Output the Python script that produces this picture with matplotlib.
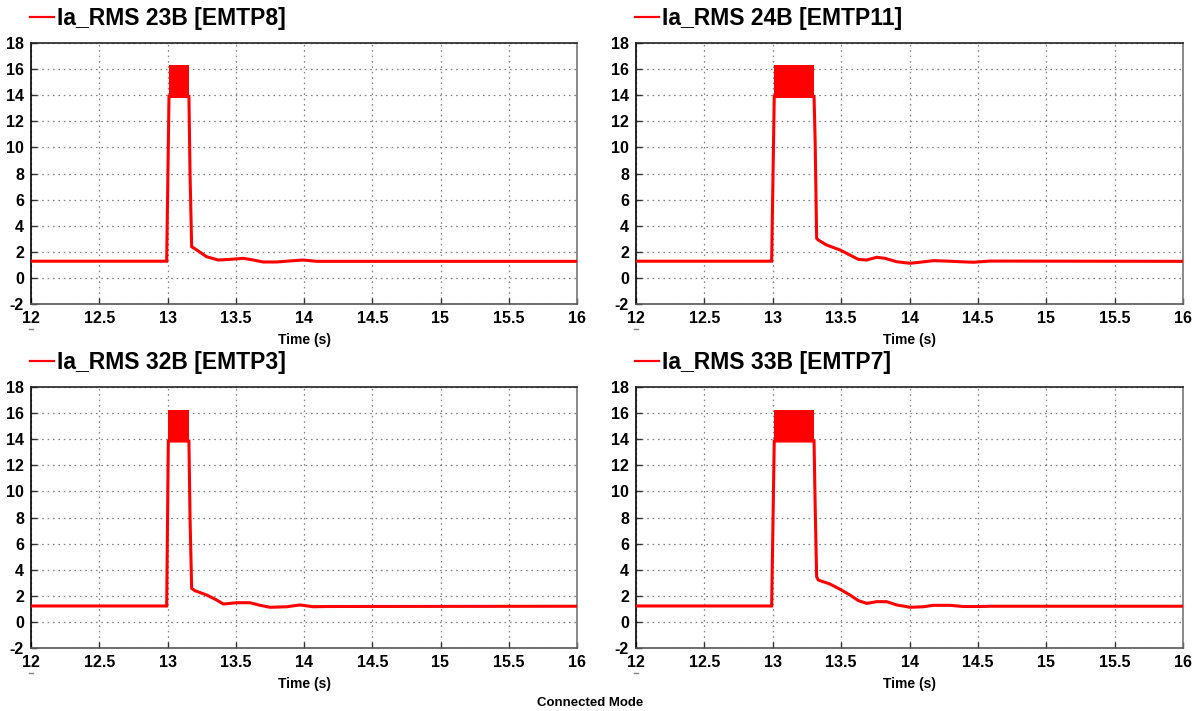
import matplotlib
matplotlib.use("Agg")
import matplotlib.pyplot as plt
from matplotlib.lines import Line2D

# ---------------- data ----------------
titles = ["Ia_RMS 23B [EMTP8]", "Ia_RMS 24B [EMTP11]",
          "Ia_RMS 32B [EMTP3]", "Ia_RMS 33B [EMTP7]"]

x_ticks = [12, 12.5, 13, 13.5, 14, 14.5, 15, 15.5, 16]
x_tick_labels = ["12", "12.5", "13", "13.5", "14", "14.5", "15", "15.5", "16"]
y_ticks = [-2, 0, 2, 4, 6, 8, 10, 12, 14, 16, 18]
y_tick_labels = ["-2", "0", "2", "4", "6", "8", "10", "12", "14", "16", "18"]

# panel 1: 23B
t_23B = [12.0, 12.994, 13.011, 13.157, 13.165, 13.177, 13.214, 13.287, 13.372,
         13.458, 13.555, 13.629, 13.70, 13.80, 13.897, 13.995, 14.093, 14.19, 16.0]
i_23B = [1.28, 1.28, 13.9, 13.9, 8.0, 2.39, 2.14, 1.62, 1.37,
         1.42, 1.50, 1.37, 1.22, 1.22, 1.30, 1.37, 1.27, 1.27, 1.27]
band_t_23B = [13.011, 13.157]
band_lo_23B = [13.9, 13.9]
band_hi_23B = [16.3, 16.3]

# panel 2: 24B
t_24B = [12.0, 12.992, 13.011, 13.302, 13.31, 13.321, 13.333, 13.394, 13.492,
         13.565, 13.626, 13.687, 13.760, 13.821, 13.906, 14.004, 14.077, 14.174,
         14.272, 14.369, 14.467, 14.589, 16.0]
i_24B = [1.28, 1.28, 13.9, 13.9, 10.5, 3.03, 2.90, 2.52, 2.14,
         1.75, 1.42, 1.37, 1.58, 1.50, 1.24, 1.12, 1.20, 1.32,
         1.29, 1.24, 1.20, 1.29, 1.27]
band_t_24B = [13.011, 13.302]
band_lo_24B = [13.9, 13.9]
band_hi_24B = [16.3, 16.3]

# panel 3: 32B
t_32B = [12.0, 12.994, 13.006, 13.157, 13.165, 13.177, 13.201, 13.287, 13.360,
         13.409, 13.507, 13.604, 13.678, 13.751, 13.873, 13.971, 14.068, 14.166, 16.0]
i_32B = [1.22, 1.22, 13.86, 13.86, 8.0, 2.57, 2.39, 2.06, 1.68,
         1.37, 1.47, 1.47, 1.27, 1.12, 1.16, 1.30, 1.16, 1.18, 1.2]
band_t_32B = [13.006, 13.157]
band_lo_32B = [13.86, 13.86]
band_hi_32B = [16.25, 16.25]

# panel 4: 33B
t_33B = [12.0, 12.992, 13.011, 13.302, 13.31, 13.321, 13.333, 13.419, 13.492,
         13.565, 13.626, 13.687, 13.760, 13.833, 13.906, 14.004, 14.101, 14.174,
         14.296, 14.393, 14.516, 14.589, 16.0]
i_33B = [1.22, 1.22, 13.86, 13.86, 9.0, 3.46, 3.21, 2.90, 2.50,
         2.06, 1.63, 1.42, 1.55, 1.55, 1.30, 1.12, 1.16, 1.27,
         1.27, 1.18, 1.18, 1.2, 1.2]
band_t_33B = [13.011, 13.302]
band_lo_33B = [13.86, 13.86]
band_hi_33B = [16.25, 16.25]

series = [
    (t_23B, i_23B, band_t_23B, band_lo_23B, band_hi_23B),
    (t_24B, i_24B, band_t_24B, band_lo_24B, band_hi_24B),
    (t_32B, i_32B, band_t_32B, band_lo_32B, band_hi_32B),
    (t_33B, i_33B, band_t_33B, band_lo_33B, band_hi_33B),
]

# ---------------- figure ----------------
W, H = 1200, 711
plt.rcParams['font.family'] = ['Liberation Sans', 'DejaVu Sans']
plt.rcParams['axes.unicode_minus'] = False
fig = plt.figure(figsize=(W / 100, H / 100), dpi=100)

# axes rectangles in pixels: left, top, right, bottom
rects = [(31, 43, 577, 304), (636, 43, 1183, 304),
         (31, 387, 577, 648), (636, 387, 1183, 648)]

RED = "#ff0000"

for k, ((l, t, r, b), (tt, ii, bt, blo, bhi), title) in enumerate(zip(rects, series, titles)):
    ax = fig.add_axes([l / W, 1 - b / H, (r - l) / W, (b - t) / H])
    ax.fill_between(bt, blo, bhi, color=RED, linewidth=0, zorder=3)
    ax.plot(tt, ii, color=RED, linewidth=2.2, solid_joinstyle='miter', zorder=4)
    ax.set_xlim(12, 16)
    ax.set_ylim(-2, 18)
    ax.set_xticks(x_ticks)
    ax.set_xticklabels(x_tick_labels)
    ax.set_yticks(y_ticks)
    ax.set_yticklabels(y_tick_labels)
    ax.grid(True, color="#808080", linestyle=(0, (1.3, 3.0)), linewidth=0.9)
    ax.tick_params(direction='in', length=4, width=1, color="#333333",
                   labelsize=11.5)
    ax.tick_params(axis='x', pad=5)
    ax.tick_params(axis='y', pad=5)
    for lab in ax.get_xticklabels() + ax.get_yticklabels():
        lab.set_fontweight('bold')
    ax.spines['left'].set_color('#000000')
    ax.spines['top'].set_color('#222222')
    ax.spines['right'].set_color('#777777')
    ax.spines['bottom'].set_color('#555555')
    for s in ax.spines.values():
        s.set_linewidth(1.2)
    ax.set_xlabel("Time (s)", fontsize=10, fontweight='bold', labelpad=5)

    # title legend: red line + bold text
    ty = t - 26
    fig.add_artist(Line2D([(l - 1) / W, (l + 23) / W], [1 - ty / H, 1 - ty / H],
                          color=RED, linewidth=1.6))
    fig.text((l + 26) / W, 1 - (ty + 2) / H, title, fontsize=16.5, fontweight='bold',
             ha='left', va='center', color='#000000')

    # tiny gray dash under the first x tick label
    dy = b + 25
    fig.add_artist(Line2D([(l - 2) / W, (l + 2) / W], [1 - dy / H, 1 - dy / H],
                          color='#808080', linewidth=1.0))

fig.text(590 / W, 1 - 703 / H, "Connected Mode", fontsize=9.5, fontweight='bold',
         ha='center', va='center')

fig.savefig("out.png", dpi=100, facecolor='white')
